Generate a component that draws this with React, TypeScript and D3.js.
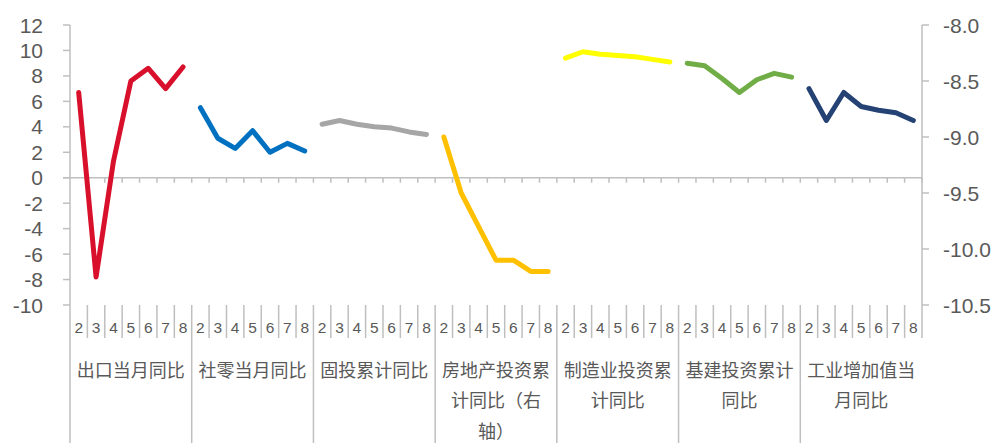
import React from 'react';
import * as d3 from 'd3';

// Month labels shared by every indicator block
const months = ['2', '3', '4', '5', '6', '7', '8'];

// Indicator blocks, wrapped over several lines beneath the month row
const groupLabels: string[][] = [
  ['出口当月同比'],
  ['社零当月同比'],
  ['固投累计同比'],
  ['房地产投资累', '计同比（右', '轴）'],
  ['制造业投资累', '计同比'],
  ['基建投资累计', '同比'],
  ['工业增加值当', '月同比'],
];

// Series values (%), one per month
const exportYoY = [6.7, -7.8, 1.3, 7.6, 8.6, 7.0, 8.7];
const retailYoY = [5.5, 3.1, 2.3, 3.7, 2.0, 2.7, 2.1];
const faiYtd = [4.2, 4.5, 4.2, 4.0, 3.9, 3.6, 3.4];
const realEstateYtd = [-9.0, -9.5, -9.8, -10.1, -10.1, -10.2, -10.2];
const manufacturingYtd = [9.4, 9.9, 9.7, 9.6, 9.5, 9.3, 9.1];
const infrastructureYtd = [9.0, 8.8, 7.8, 6.7, 7.7, 8.2, 7.9];
const industrialYoY = [7.0, 4.5, 6.7, 5.6, 5.3, 5.1, 4.5];

// Axis tick values
const leftTicks = [12, 10, 8, 6, 4, 2, 0, -2, -4, -6, -8, -10];
const rightTicks = [-8.0, -8.5, -9.0, -9.5, -10.0, -10.5];

const seriesList = [
  { values: exportYoY, color: '#D9102B', axis: 'left' },
  { values: retailYoY, color: '#0070C0', axis: 'left' },
  { values: faiYtd, color: '#A6A6A6', axis: 'left' },
  { values: realEstateYtd, color: '#FFC000', axis: 'right' },
  { values: manufacturingYtd, color: '#FFFF00', axis: 'left' },
  { values: infrastructureYtd, color: '#70AD47', axis: 'left' },
  { values: industrialYoY, color: '#254274', axis: 'right2' },
];

const W = 998;
const H = 443;
const plotLeft = 70;
const plotRight = 922;
const plotTop = 25;
const plotBottom = 305;
const AXIS = '#BFBFBF';
const TEXT = '#595959';
const NUM_FONT = '"Liberation Sans", Arial, sans-serif';
const CJK_FONT = '"Noto Sans CJK SC", "Noto Sans", sans-serif';

export default function App() {
  const nGroups = groupLabels.length;
  const nCats = nGroups * months.length;
  const catIndex = d3.range(nCats);

  const x = d3.scaleBand<number>().domain(catIndex).range([plotLeft, plotRight]).padding(0);
  const bw = x.bandwidth();
  const yL = d3.scaleLinear().domain([-10, 12]).range([plotBottom, plotTop]);
  const yR = d3.scaleLinear().domain([-10.5, -8]).range([plotBottom, plotTop]);
  const y0 = yL(0);

  const boundary = (k: number) => plotLeft + k * bw;

  return (
    <svg
      width={W}
      height={H}
      viewBox={`0 0 ${W} ${H}`}
      style={{ position: 'absolute', left: 0, top: 0, background: '#fff' }}
    >
      {/* left value axis */}
      <line x1={plotLeft} x2={plotLeft} y1={plotTop} y2={H} stroke={AXIS} strokeWidth={1.5} />
      {leftTicks.map((t) => (
        <g key={`l${t}`}>
          <line x1={plotLeft - 7} x2={plotLeft} y1={yL(t)} y2={yL(t)} stroke={AXIS} strokeWidth={1.5} />
          <text
            x={43}
            y={yL(t)}
            dy="0.36em"
            textAnchor="end"
            fontFamily={NUM_FONT}
            fontSize={21}
            fill={TEXT}
          >
            {t}
          </text>
        </g>
      ))}

      {/* right value axis */}
      <line x1={plotRight} x2={plotRight} y1={plotTop} y2={338} stroke={AXIS} strokeWidth={1.5} />
      {rightTicks.map((t) => (
        <g key={`r${t}`}>
          <line x1={plotRight} x2={plotRight + 7} y1={yR(t)} y2={yR(t)} stroke={AXIS} strokeWidth={1.5} />
          <text
            x={943}
            y={yR(t)}
            dy="0.36em"
            textAnchor="start"
            fontFamily={NUM_FONT}
            fontSize={21}
            fill={TEXT}
          >
            {t.toFixed(1)}
          </text>
        </g>
      ))}

      {/* zero line with category ticks */}
      <line x1={plotLeft - 7} x2={plotRight} y1={y0} y2={y0} stroke={AXIS} strokeWidth={1.5} />
      {d3.range(1, nCats + 1).map((k) => (
        <line
          key={`zt${k}`}
          x1={boundary(k)}
          x2={boundary(k)}
          y1={y0}
          y2={y0 + 5}
          stroke={AXIS}
          strokeWidth={1.5}
        />
      ))}

      {/* category axis: month row and group row separators */}
      {d3.range(1, nCats).map((k) => (
        <line
          key={`ct${k}`}
          x1={boundary(k)}
          x2={boundary(k)}
          y1={plotBottom}
          y2={k % months.length === 0 ? H : 338}
          stroke={AXIS}
          strokeWidth={1.5}
        />
      ))}

      {catIndex.map((i) => (
        <text
          key={`m${i}`}
          x={(x(i) as number) + bw / 2}
          y={332.5}
          textAnchor="middle"
          fontFamily={NUM_FONT}
          fontSize={15.5}
          fill={TEXT}
        >
          {months[i % months.length]}
        </text>
      ))}

      {groupLabels.map((lines, g) => {
        const cx = boundary(g * months.length) + (bw * months.length) / 2;
        return (
          <text
            key={`g${g}`}
            textAnchor="middle"
            fontFamily={CJK_FONT}
            fontSize={18}
            fill={TEXT}
          >
            {lines.map((ln, j) => (
              <tspan key={j} x={cx} y={376.5 + j * 30.5}>
                {ln}
              </tspan>
            ))}
          </text>
        );
      })}

      {/* one polyline per indicator block */}
      {seriesList.map((s, g) => {
        const scale = s.axis === 'right' ? yR : yL;
        const line = d3
          .line<number>()
          .x((_, i) => (x(g * months.length + i) as number) + bw / 2)
          .y((v) => scale(v));
        return (
          <path
            key={`s${g}`}
            d={line(s.values) || ''}
            fill="none"
            stroke={s.color}
            strokeWidth={5}
            strokeLinejoin="round"
            strokeLinecap="round"
          />
        );
      })}
    </svg>
  );
}
